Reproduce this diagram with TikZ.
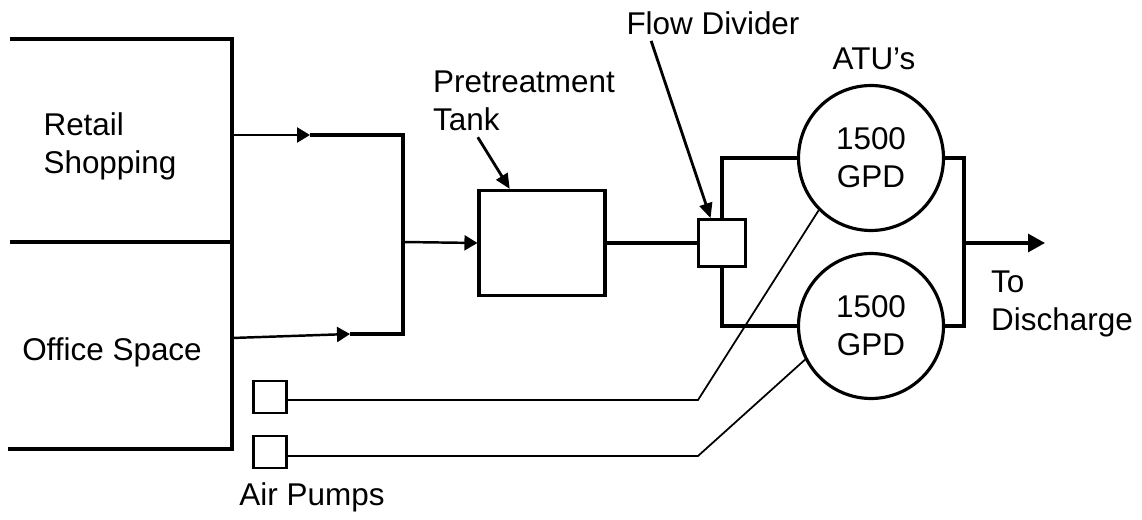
\documentclass[tikz,border=0pt]{standalone}
\usepackage{fontspec}
\setmainfont{Liberation Sans}
\usetikzlibrary{arrows.meta,positioning,calc}

\begin{document}
\begin{tikzpicture}[
  x=0.02cm,y=-0.02cm,
  txt/.style={font=\fontsize{17.9}{21.5}\selectfont,inner sep=0pt,align=left},
  wall/.style={line width=1.9pt},
  feed/.style={line width=1.4pt},
  pipe/.style={line width=1.8pt},
  air/.style={line width=1pt},
  tankbox/.style={draw,line width=1.8pt,minimum width=2.52cm,minimum height=2.1cm},
  divbox/.style={draw,line width=1.8pt,minimum width=0.93cm,minimum height=0.93cm},
  pumpbox/.style={draw,line width=1.4pt,minimum width=0.66cm,minimum height=0.64cm},
  atu/.style={circle,draw,line width=1.8pt,minimum size=2.9cm,inner sep=0pt,
    align=center,font=\fontsize{17.9}{21.5}\selectfont},
  tip/.style={-{Triangle[length=0.26cm,width=0.3cm]}},
  outtip/.style={-{Triangle[length=0.34cm,width=0.36cm]}},
  ptr/.style={line width=1.6pt,-{Triangle[length=0.3cm,width=0.26cm]}}
]
  \useasboundingbox (0,0) rectangle (1142,520);
  % Building
  \draw[wall] (10,39) -- (232,39) -- (232,449) -- (8,449);
  \draw[wall] (10,242) -- (232,242);
  \node[txt] (retaillbl) at (110,146) {Retail\\Shopping};
  \node[txt] (officelbl) at (112,352) {Office Space};
  % Junction
  \coordinate (retailout) at (232,135);
  \coordinate (officeout) at (232,338);
  \coordinate (officebend) at (350,334);
  \coordinate (jtop) at (403,135);
  \coordinate (jbot) at (403,334);
  \coordinate (jmid) at (403,242);
  \draw[feed,tip] (retailout) -- (310,135);
  \draw[pipe] (310,135) -- (jtop) -- (jbot) -- (officebend);
  \draw[feed,tip] (officeout) -- (officebend);
  % Pretreatment
  \node[tankbox] (tank) at (542,243) {};
  \node[txt] (tanklbl) at (524,101) {Pretreatment\\Tank};
  \draw[feed,tip] (jmid) -- (tank.west);
  \draw[ptr] ($(tanklbl.south west)+(45,6)$) -- ($(tank.north west)!0.25!(tank.north east)$);
  % Flow divider
  \node[divbox] (divider) at (722,243) {};
  \node[txt] (flowlbl) at (713,23) {Flow Divider};
  \draw[pipe] (tank.east) -- (divider.west);
  \draw[ptr] ($(flowlbl.south west)+(25,6)$) -- ($(divider.north west)!0.27!(divider.north east)$);
  % ATU's
  \node[atu] (atu1) at (871,158) {1500\\GPD};
  \node[atu] (atu2) at (871,326) {1500\\GPD};
  \node[txt] (atulbl) at (874,59) {ATU’s};
  \draw[pipe] (divider.north) |- (atu1.west);
  \draw[pipe] (divider.south) |- (atu2.west);
  \coordinate (collect) at (964,243);
  \coordinate (discharge) at (1045,243);
  \draw[pipe] (atu1.east) -| (collect) |- (atu2.east);
  \draw[pipe,outtip] (collect) -- (discharge);
  \node[txt] (dischargelbl) at (1062,304) {To\\Discharge};
  % Air pumps
  \node[pumpbox] (pump1) at (270,397) {};
  \node[pumpbox] (pump2) at (270,452) {};
  \node[txt] (pumplbl) at (312,497) {Air Pumps};
  \coordinate (bend1) at (698,400);
  \coordinate (bend2) at (698,456);
  \draw[air] (pump1.east |- bend1) -- (bend1) -- (atu1.225);
  \draw[air] (pump2.east |- bend2) -- (bend2) -- (atu2.207);
\end{tikzpicture}
\end{document}
